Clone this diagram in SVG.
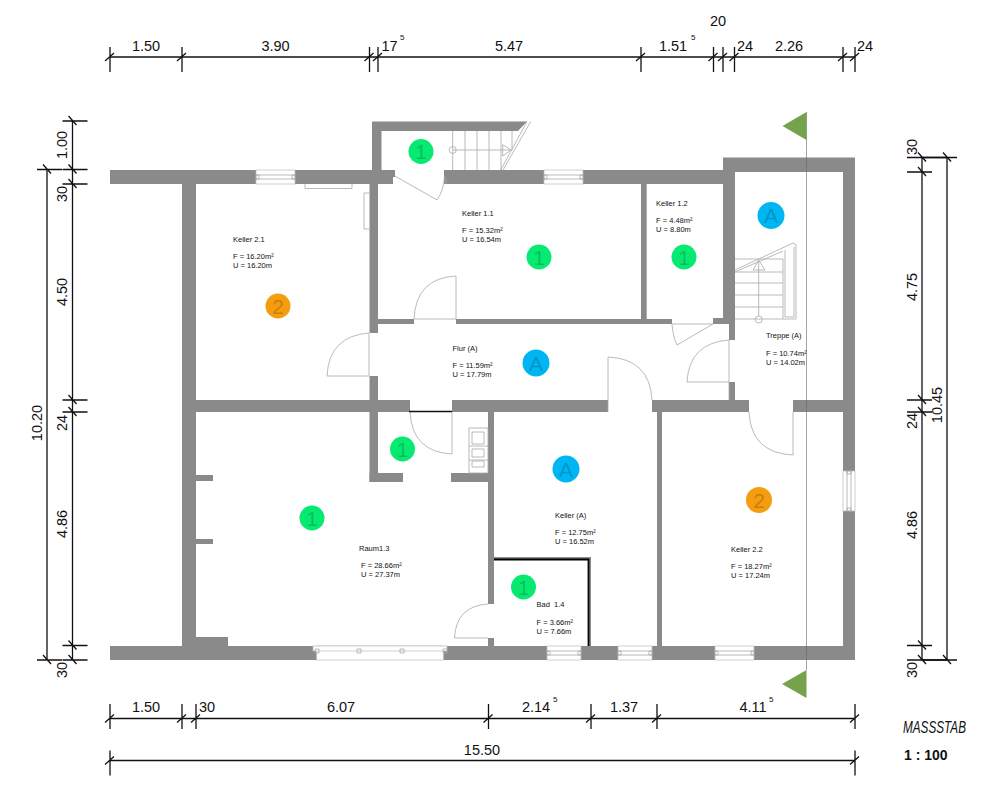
<svg xmlns="http://www.w3.org/2000/svg" width="1000" height="804" viewBox="0 0 1000 804">
<style>
text{font-family:"Liberation Sans",Arial,sans-serif;fill:#111}
.w{fill:#8a8a8a}
.l{fill:none;stroke:#a8a8a8;stroke-width:.8}
.win{fill:#fff;stroke:#bbb;stroke-width:.7}
.d{fill:none;stroke:#111;stroke-width:1.3}
.dim{font-size:14.5px;text-anchor:middle}
.sup{font-size:8px}
.rm{font-size:7.5px}
.mark{font-size:21px;text-anchor:middle;fill-opacity:.2;fill:#000}
.g{fill:#06ea72}.b{fill:#00b6f2}.o{fill:#f59c0f}
.sec{fill:#76a24e}
</style>
<defs>
<path id="h" class="d" d="M-5 4L4 -4M0 -10V15"/>
<path id="hb" class="d" d="M-5 4L4 -4M0 -14.500V10.500"/>
<path id="v" class="d" d="M-4 -5L4 4M-10 0H15"/>
<path id="vr" class="d" d="M-4 -5L4 4M-15 0H10"/>
</defs>
<rect width="1000" height="804" fill="#fff"/>
<g id="walls">
<rect class="w" x="110" y="170" width="285" height="7"/>
<rect class="w" x="110" y="177" width="283" height="7"/>
<rect class="w" x="182" y="184" width="14" height="462"/>
<path class="w" d="M372 121.500H527L518 131H381.500V170H372Z"/>
<rect class="w" x="444" y="170" width="280" height="14"/>
<rect class="w" x="369.500" y="184" width="8.500" height="149"/>
<rect class="w" x="369.500" y="376" width="8.500" height="106"/>
<path class="w" d="M723 157.500H855V660H843V172H735V340H729V318H723Z"/>
<rect class="w" x="729" y="382" width="6" height="18"/>
<rect class="w" x="641" y="184" width="5.700" height="135"/>
<rect class="w" x="378" y="319" width="36" height="5"/>
<rect class="w" x="456" y="319" width="216" height="5"/>
<rect class="w" x="713" y="318" width="16" height="6"/>
<rect class="w" x="196" y="400" width="214" height="12"/>
<rect class="w" x="452" y="400" width="156" height="12"/>
<rect class="w" x="652" y="400" width="97" height="12"/>
<rect class="w" x="793" y="400" width="50" height="12"/>
<rect class="w" x="369.500" y="473" width="33.500" height="9"/>
<rect class="w" x="451" y="473" width="43" height="9"/>
<rect class="w" x="488" y="412" width="6" height="192"/>
<rect class="w" x="488" y="638" width="6" height="8"/>
<rect class="w" x="657" y="412" width="5" height="234"/>
<rect class="w" x="110" y="646" width="745" height="14"/>
<rect class="w" x="196" y="637" width="32" height="9"/>
<rect class="w" x="196" y="475" width="17" height="6"/>
<rect class="w" x="196" y="539" width="17" height="5"/>
<rect class="w" x="494" y="557" width="97" height="3"/>
<rect class="w" x="588" y="557" width="3" height="89"/>
</g>
<g id="windows">
<g><rect class="win" x="256" y="170" width="39" height="14"/><path class="l" d="M256 175H295M256 179H295"/><path class="l" d="M256 175h3v4h-3zM292 175h3v4h-3z"/></g>
<g><rect class="win" x="544" y="170" width="39" height="14"/><path class="l" d="M544 175H583M544 179H583"/><path class="l" d="M544 175h3v4h-3zM580 175h3v4h-3z"/></g>
<g><rect class="win" x="316.500" y="646" width="127" height="14"/><rect class="win" x="313" y="646" width="134" height="5"/><path class="l" d="M315 649h4v4h-4zM357 649h4v4h-4zM400 649h4v4h-4zM443 649h4v4h-4z"/></g>
<g><rect class="win" x="547" y="646" width="34" height="14"/><path class="l" d="M547 651H581M547 655H581M547 651h3v4h-3zM578 651h3v4h-3z"/></g>
<g><rect class="win" x="618" y="646" width="34" height="14"/><path class="l" d="M618 651H652M618 655H652M618 651h3v4h-3zM649 651h3v4h-3z"/></g>
<g><rect class="win" x="715" y="646" width="39" height="14"/><path class="l" d="M715 651H754M715 655H754M715 651h3v4h-3zM751 651h3v4h-3z"/></g>
<g><rect class="win" x="843" y="471" width="12" height="40"/><path class="l" d="M847 471V511M851 471V511M847 471h4v3h-4zM847 508h4v3h-4z"/></g>
</g>
<g id="doors">
<path class="l" d="M395 176L437 200Q444 190 444.500 176M446 177V184"/>
<path class="l" d="M414 319Q416 278 456 276V319M414 319H456"/>
<path class="l" d="M369 333Q329 336 327 376H369V333"/>
<path class="l" d="M410 412Q412 452 452 454V412"/>
<path class="d" d="M409 411.500H452" style="stroke-width:1.600"/>
<path class="l" d="M652 400Q650 359 608 357V412"/>
<path class="l" d="M672 324Q673 337 677 345L713 324M672 324H713"/>
<path class="l" d="M729 340Q689 343 687 382H729M729 340V400"/>
<path class="l" d="M749 412Q751 453 793 455V412"/>
<path class="l" d="M488 604Q456 606 454.500 638H488"/>
</g>
<g id="fixtures">
<path class="l" d="M452.700 131V170M465 131V170M477 131V170M489 131V170M501 131V170M512 131V150M452.700 150H511"/>
<circle class="l" cx="452.700" cy="150" r="3.500"/>
<path class="l" d="M502.700 144.700V156L511 150Z"/>
<path class="l" d="M530.700 121.500L503 170M527 121.500L500.700 170"/>
<path class="l" d="M305 184V188.500H352V184M369.500 193H364V229H369.500"/>
<path class="l" d="M735 270L793 243L796 245V319H783V259M735 272L783 251M785 250V317H794V247M735 259H783M735 272H783M735 283H783M735 295H783M735 307H783M735 319H783M758.700 261V316"/>
<circle class="l" cx="758.700" cy="319.500" r="3.500"/>
<path class="l" d="M758.700 260L753 270H765Z"/>
<rect class="l" x="469" y="428" width="19" height="45"/>
<path class="l" d="M472 432H484V444H472ZM469 446H488M472 449H484V457H472ZM469 460H488M472 461H484V467H472Z"/>
</g>
<g id="badwall"><path fill="none" stroke="#000" stroke-width="1.800" d="M494 559.500H588.500V646"/></g>
<g id="section">
<path fill="none" stroke="#666" stroke-opacity=".75" stroke-width=".8" d="M806.500 112V670"/>
<path class="sec" d="M782.500 126L806.500 112V140Z"/>
<path class="sec" d="M782 684L806.500 670V698Z"/>
</g>
<g id="room-keller-2-1"><text class="rm" x="233" y="242">Keller 2.1</text><text class="rm" x="233" y="259">F = 16.20m²</text><text class="rm" x="233" y="268">U = 16.20m</text><circle class="o" cx="278" cy="306" r="12.500"/><text class="mark" x="278" y="313.500">2</text></g>
<g id="room-keller-1-1"><text class="rm" x="462" y="216">Keller 1.1</text><text class="rm" x="462" y="233">F = 15.32m²</text><text class="rm" x="462" y="242">U = 16.54m</text><circle class="g" cx="539" cy="257" r="12.500"/><text class="mark" x="539" y="264.500">1</text></g>
<g id="room-keller-1-1-stair"><circle class="g" cx="421" cy="151.500" r="12.500"/><text class="mark" x="421" y="159">1</text></g>
<g id="room-keller-1-2"><text class="rm" x="656" y="206">Keller 1.2</text><text class="rm" x="656" y="223">F = 4.48m²</text><text class="rm" x="656" y="232">U = 8.80m</text><circle class="g" cx="684" cy="257" r="12.500"/><text class="mark" x="684" y="264.500">1</text></g>
<g id="room-treppe"><text class="rm" x="766" y="338">Treppe (A)</text><text class="rm" x="766" y="355.500">F = 10.74m²</text><text class="rm" x="766" y="364.500">U = 14.02m</text><circle class="b" cx="771" cy="215.500" r="13.500"/><text class="mark" x="771" y="223">A</text></g>
<g id="room-flur"><text class="rm" x="452.500" y="351">Flur (A)</text><text class="rm" x="452.500" y="368">F = 11.59m²</text><text class="rm" x="452.500" y="377">U = 17.79m</text><circle class="b" cx="536" cy="363" r="13.500"/><text class="mark" x="536" y="370.500">A</text></g>
<g id="room-wc"><circle class="g" cx="402.500" cy="449" r="12.500"/><text class="mark" x="402.500" y="456.500">1</text></g>
<g id="room-keller-a"><text class="rm" x="555" y="518">Keller (A)</text><text class="rm" x="555" y="535">F = 12.75m²</text><text class="rm" x="555" y="544">U = 16.52m</text><circle class="b" cx="566" cy="469" r="13.500"/><text class="mark" x="566" y="476.500">A</text></g>
<g id="room-raum-1-3"><text class="rm" x="359" y="550.500">Raum1.3</text><text class="rm" x="361" y="568">F = 28.66m²</text><text class="rm" x="361" y="577">U = 27.37m</text><circle class="g" cx="312" cy="518" r="12.500"/><text class="mark" x="312" y="525.500">1</text></g>
<g id="room-bad"><text class="rm" x="536.500" y="607" xml:space="preserve">Bad  1.4</text><text class="rm" x="536.500" y="625">F = 3.66m²</text><text class="rm" x="536.500" y="633.500">U = 7.66m</text><circle class="g" cx="523.500" cy="587" r="12.500"/><text class="mark" x="523.500" y="594.500">1</text></g>
<g id="room-keller-2-2"><text class="rm" x="731" y="552">Keller 2.2</text><text class="rm" x="731" y="569">F = 18.27m²</text><text class="rm" x="731" y="578">U = 17.24m</text><circle class="o" cx="759" cy="500" r="13"/><text class="mark" x="759" y="507.500">2</text></g>
<g id="dim-top">
<path class="d" d="M110 57H855"/>
<use href="#h" x="110" y="57"/><use href="#h" x="182" y="57"/><use href="#h" x="369.500" y="57"/><use href="#h" x="378" y="57"/><use href="#h" x="641" y="57"/><use href="#h" x="713.500" y="57"/><use href="#h" x="723" y="57"/><use href="#h" x="734.500" y="57"/><use href="#h" x="843" y="57"/><use href="#h" x="855" y="57"/>
<text class="dim" x="146" y="51">1.50</text><text class="dim" x="275.500" y="51">3.90</text><text class="dim" x="389.500" y="51">17</text><text class="sup" x="400" y="40">5</text><text class="dim" x="509" y="51">5.47</text><text class="dim" x="673" y="51">1.51</text><text class="sup" x="691" y="40">5</text><text class="dim" x="718" y="26">20</text><text class="dim" x="745" y="51">24</text><text class="dim" x="789" y="51">2.26</text><text class="dim" x="865" y="51">24</text>
</g>
<g id="dim-left">
<path class="d" d="M72.500 121V660M47 169.500V660"/>
<use href="#v" x="72.500" y="121"/><use href="#v" x="72.500" y="169.500"/><use href="#v" x="72.500" y="184"/><use href="#v" x="72.500" y="400"/><use href="#v" x="72.500" y="412"/><use href="#v" x="72.500" y="645.500"/><use href="#v" x="72.500" y="660"/>
<use href="#v" x="47" y="169.500"/><use href="#v" x="47" y="660"/>
<text class="dim" transform="translate(67 145) rotate(-90)">1.00</text><text class="dim" transform="translate(67 194) rotate(-90)">30</text><text class="dim" transform="translate(67 292) rotate(-90)">4.50</text><text class="dim" transform="translate(67 423) rotate(-90)">24</text><text class="dim" transform="translate(67 524) rotate(-90)">4.86</text><text class="dim" transform="translate(67 670) rotate(-90)">30</text><text class="dim" transform="translate(41.500 423) rotate(-90)">10.20</text>
</g>
<g id="dim-right">
<path class="d" d="M922 157.500V660M947 157.500V660M922 157.500H947M922 660H947"/>
<use href="#vr" x="922" y="157.500"/><use href="#vr" x="922" y="172"/><use href="#vr" x="922" y="400"/><use href="#vr" x="922" y="412"/><use href="#vr" x="922" y="645.500"/><use href="#vr" x="922" y="660"/><use href="#vr" x="947" y="157.500"/><use href="#vr" x="947" y="660"/>
<text class="dim" transform="translate(917 147) rotate(-90)">30</text><text class="dim" transform="translate(917 287) rotate(-90)">4.75</text><text class="dim" transform="translate(917 421) rotate(-90)">24</text><text class="dim" transform="translate(917 525) rotate(-90)">4.86</text><text class="dim" transform="translate(917 670) rotate(-90)">30</text><text class="dim" transform="translate(942 405) rotate(-90)">10.45</text>
</g>
<g id="dim-bottom">
<path class="d" d="M110 718.500H855M110 760.500H855"/>
<use href="#hb" x="110" y="718.500"/><use href="#hb" x="182" y="718.500"/><use href="#hb" x="196" y="718.500"/><use href="#hb" x="488.500" y="718.500"/><use href="#hb" x="591" y="718.500"/><use href="#hb" x="657" y="718.500"/><use href="#hb" x="855" y="718.500"/><use href="#h" x="110" y="760.500"/><use href="#h" x="855" y="760.500"/>
<text class="dim" x="146" y="712">1.50</text><text class="dim" x="207" y="712">30</text><text class="dim" x="341" y="712">6.07</text><text class="dim" x="536" y="712">2.14</text><text class="sup" x="553" y="702">5</text><text class="dim" x="624" y="712">1.37</text><text class="dim" x="753" y="712">4.11</text><text class="sup" x="769" y="702">5</text><text class="dim" x="482" y="755">15.50</text>
</g>
<g id="scale">
<text x="903" y="733" font-size="16" font-style="italic" textLength="63" lengthAdjust="spacingAndGlyphs">MASSSTAB</text>
<text x="904" y="760" font-size="14" font-weight="700" xml:space="preserve">1 : 100</text>
</g>
</svg>
